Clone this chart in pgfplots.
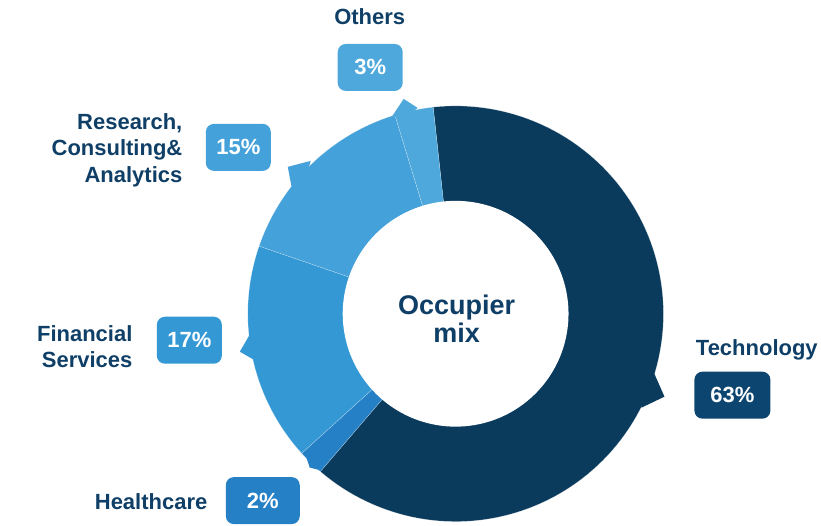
\documentclass[border=0pt]{standalone}
\usepackage{pgfplots}
\pgfplotsset{compat=1.18}
\usepackage{fontspec}
\setmainfont{Liberation Sans}
\definecolor{cTech}{HTML}{0A3A5C}
\definecolor{cTechBox}{HTML}{0C4670}
\definecolor{cHealth}{HTML}{2680C6}
\definecolor{cFin}{HTML}{3498D5}
\definecolor{cRes}{HTML}{45A1D9}
\definecolor{cOth}{HTML}{4EA8DC}
\definecolor{cText}{HTML}{0F3F66}
\begin{document}
\begin{tikzpicture}
% data: occupier mix shares (%)
\def\pTech{63}\def\pHealth{2}\def\pFin{17}\def\pRes{15}\def\pOth{3}
\def\cx{456}\def\cy{314}\def\R{208}\def\ri{113}
\pgfmathsetmacro{\aA}{96.2}
\pgfmathsetmacro{\aB}{\aA-\pTech*3.6}
\pgfmathsetmacro{\aC}{\aB-\pHealth*3.6}
\pgfmathsetmacro{\aD}{\aC-\pFin*3.6}
\pgfmathsetmacro{\aE}{\aD-\pRes*3.6}
\pgfmathsetmacro{\aF}{\aE-\pOth*3.6}
\begin{axis}[
  scale only axis, width=821pt, height=526pt,
  xmin=0, xmax=821, ymin=0, ymax=526, y dir=reverse,
  hide axis, clip=false,
  every axis plot/.append style={samples=120, variable=\t},
]
\path (axis cs:0,0) (axis cs:821,526);
% slices
\tikzset{sl/.style={draw=white, draw opacity=0.5, line width=0.3pt}}
\addplot[fill=cTech, sl, domain=\aB:\aA] ({\cx+\R*cos(\t)},{\cy-\R*sin(\t)}) -- (axis cs:\cx,\cy) -- cycle;
\addplot[fill=cHealth, sl, domain=\aC:\aB] ({\cx+\R*cos(\t)},{\cy-\R*sin(\t)}) -- (axis cs:\cx,\cy) -- cycle;
\addplot[fill=cFin, sl, domain=\aD:\aC] ({\cx+\R*cos(\t)},{\cy-\R*sin(\t)}) -- (axis cs:\cx,\cy) -- cycle;
\addplot[fill=cRes, sl, domain=\aE:\aD] ({\cx+\R*cos(\t)},{\cy-\R*sin(\t)}) -- (axis cs:\cx,\cy) -- cycle;
\addplot[fill=cOth, sl, domain=\aF:\aE] ({\cx+\R*cos(\t)},{\cy-\R*sin(\t)}) -- (axis cs:\cx,\cy) -- cycle;
% pointers
\addplot[fill=cTech, draw=none] coordinates {(654,372) (665,397) (642,408) (640,390)} -- cycle;
\addplot[fill=cHealth, draw=none] coordinates {(305,453) (310,468) (322,471) (318,462)} -- cycle;
\addplot[fill=cFin, draw=none] coordinates {(251,333) (240,352) (254,360) (258,345)} -- cycle;
\addplot[fill=cRes, draw=none] coordinates {(311,161) (288,167) (292,188) (305,180)} -- cycle;
\addplot[fill=cOth, draw=none] coordinates {(392,117) (404,99) (418,108) (405,118)} -- cycle;
% hole
\addplot[fill=white, draw=none, domain=0:360, samples=180] ({\cx+\ri*cos(\t)},{\cy-\ri*sin(\t)}) -- cycle;
% centre title
\node[font=\fontsize{27}{31}\selectfont\bfseries, text=cText, align=center] at (axis cs:457,319) {Occupier\\[-2pt]mix};
% labels
\tikzset{lab/.style={font=\fontsize{22}{26.5}\selectfont\bfseries, text=cText},
  box/.style={rounded corners=8pt, minimum height=47pt, font=\fontsize{22}{26}\selectfont\bfseries, text=white, inner sep=0pt}}
\node[lab, anchor=west] at (axis cs:693,350) {Technology};
\node[box, fill=cTechBox, minimum width=76pt] at (axis cs:733,395.5) {63\%};
\node[lab, anchor=east] at (axis cs:211,502) {Healthcare};
\node[box, fill=cHealth, minimum width=74pt] at (axis cs:263,501) {2\%};
\node[lab, anchor=east, align=right] at (axis cs:136,347) {Financial\\Services};
\node[box, fill=cFin, minimum width=65pt] at (axis cs:189.5,340.5) {17\%};
\node[lab, anchor=east, align=right] at (axis cs:186,150) {Research,\\Consulting\&\\Analytics};
\node[box, fill=cRes, minimum width=65pt] at (axis cs:238.5,147.5) {15\%};
\node[lab] at (axis cs:370,17) {Others};
\node[box, fill=cOth, minimum width=65pt] at (axis cs:370.5,67.5) {3\%};
\end{axis}
\end{tikzpicture}
\end{document}
